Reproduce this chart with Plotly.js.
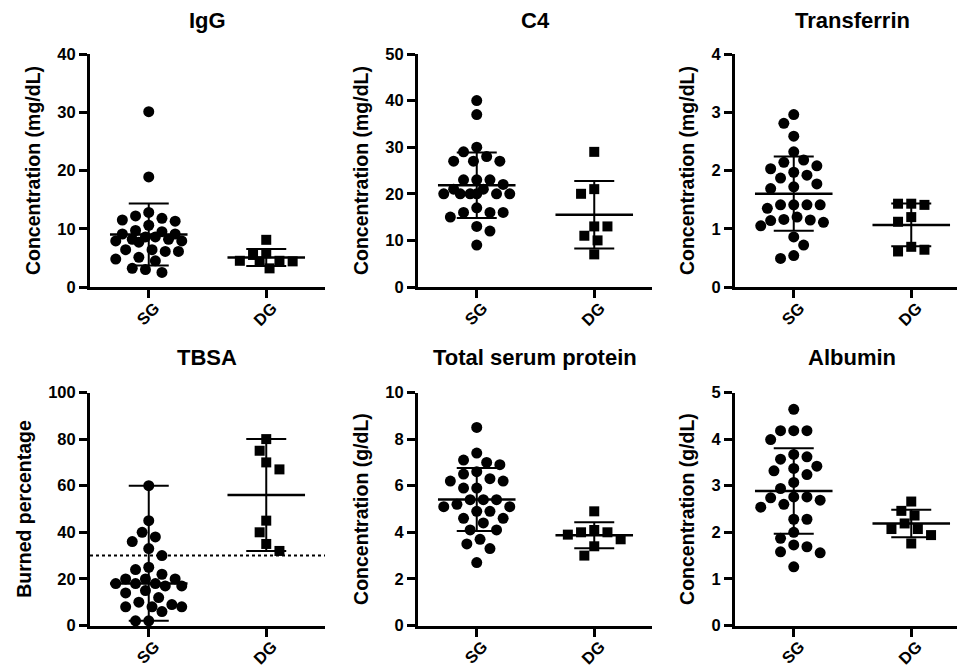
<!DOCTYPE html>
<html>
<head>
<meta charset="utf-8">
<script src="https://cdn.plot.ly/plotly-3.0.1.min.js"></script>
<style>html,body{margin:0;padding:0;background:#fff;}#chart{width:957px;height:668px;}</style>
</head>
<body>
<div id="chart"></div>
<script>
// ---------- data ----------
const groups = ['SG', 'DG'];
const panelTitles = ['IgG', 'C4', 'Transferrin', 'TBSA', 'Total serum protein', 'Albumin'];
const yTitles = ['Concentration (mg/dL)', 'Concentration (mg/dL)', 'Concentration (mg/dL)',
                 'Burned percentage', 'Concentration (g/dL)', 'Concentration (g/dL)'];
const yMax = [40, 50, 4, 100, 10, 5];
const yStep = [10, 10, 1, 20, 2, 1];

const iggSG = [30.1, 18.9, 12.8, 11.8, 11.3, 10.6, 11.5, 12.2, 9.7, 9.1, 8.6, 8.2, 7.9, 7.7, 7.9, 8.2, 8.6, 9.1, 9.5,
               6.4, 6.1, 6.1, 6.4, 4.8, 5.1, 4.5, 3.2, 2.5, 3.0];
const iggDG = [8.1, 5.8, 5.5, 4.5, 4.4, 4.4, 4.5, 3.2];

const c4SG = [40, 37, 29, 30, 28, 27, 27, 27, 23, 23, 23, 22, 21, 21, 20, 20, 20, 20, 20, 20, 17, 16, 16, 15, 16, 13, 12, 9];
const c4DG = [29, 20, 21, 13, 13, 11, 10, 7];

const transferrinSG = [2.96, 2.81, 2.59, 2.32, 2.14, 2.18, 2.03, 2.08, 1.92, 1.97, 1.87, 1.77, 1.69, 1.72, 1.41, 1.41,
                       1.35, 1.41, 1.41, 1.20, 1.15, 1.11, 1.14, 1.16, 1.05, 0.86, 0.72, 0.49, 0.54];
const transferrinDG = [1.43, 1.41, 1.43, 1.20, 1.12, 0.69, 0.61, 0.64];

const tbsaSG = [60, 45, 40, 38, 36, 33, 30, 25, 24, 22, 20, 20, 20, 18, 18, 17, 17, 18, 15, 14, 10, 9, 12, 8, 6, 8, 8, 2, 2];
const tbsaDG = [80, 75, 70, 67, 45, 40, 35, 32];
const tbsaThreshold = 30;

const tspSG = [8.5, 7.4, 7.1, 6.9, 7.0, 6.6, 6.3, 6.2, 6.2, 6.5, 5.9, 5.9, 5.4, 5.4, 5.1, 5.1, 5.2, 5.4, 4.9, 4.9,
               4.6, 4.6, 4.4, 4.1, 4.1, 3.7, 3.5, 3.3, 2.7];
const tspDG = [4.9, 4.0, 3.9, 4.0, 4.1, 3.7, 3.4, 3.0];

const albuminSG = [4.64, 4.18, 4.18, 4.18, 3.99, 3.62, 3.57, 3.67, 3.37, 3.42, 3.24, 3.32, 3.07, 2.94, 2.76, 2.69,
                   2.76, 2.74, 2.54, 2.60, 2.28, 2.28, 2.00, 1.87, 1.69, 1.73, 1.56, 1.58, 1.26];
const albuminDG = [2.66, 2.36, 2.46, 2.19, 2.07, 2.07, 1.94, 1.76];

// summary type per panel: mean ± SD, except TBSA: median with range
const summaryType = ['meanSD', 'meanSD', 'meanSD', 'medianRange', 'meanSD', 'meanSD'];

// ---------- layout geometry ----------
const W = 957, H = 668;
const colPx = [[90, 325], [418, 652], [735, 957]];
const rowPx = [[54, 287], [392.5, 625.5]]; // top px, zero px
const unitPx = 117.5; // px per category unit

const panelData = [[iggSG, iggDG], [c4SG, c4DG], [transferrinSG, transferrinDG],
                   [tbsaSG, tbsaDG], [tspSG, tspDG], [albuminSG, albuminDG]];

function mean(a) { return a.reduce((s, v) => s + v, 0) / a.length; }
function sd(a) { const m = mean(a); return Math.sqrt(a.reduce((s, v) => s + (v - m) * (v - m), 0) / (a.length - 1)); }
function median(a) { const s = a.slice().sort((x, y) => x - y); const n = s.length; return n % 2 ? s[(n - 1) / 2] : (s[n / 2 - 1] + s[n / 2]) / 2; }

// beeswarm placement within a capped column width (pixel space -> category units)
function swarm(vals, center, pxPerY) {
  const D = 12.5, step = 3.3, maxOff = 33;
  const order = vals.map((v, i) => i).sort((a, b) => vals[b] - vals[a]);
  const placed = [];
  const xs = new Array(vals.length);
  let flip = -1;
  const cands = [0];
  for (let k = 1; k * step <= maxOff; k++) cands.push(k * step);
  for (const i of order) {
    const y = vals[i] * pxPerY;
    let best = null, bestD = -1;
    for (const a of cands) {
      const opts = a === 0 ? [0] : [flip * a, -flip * a];
      for (const c of opts) {
        let md = Infinity;
        for (const p of placed) md = Math.min(md, Math.hypot(p[0] - c, p[1] - y));
        if (md >= D) { best = c; bestD = Infinity; break; }
        if (md > bestD + 0.01) { bestD = md; best = c; }
      }
      if (bestD === Infinity) break;
    }
    placed.push([best, y]);
    xs[i] = center + best / unitPx;
    if (best !== 0) flip = -Math.sign(best);
  }
  return xs;
}

const FONT = 'Liberation Sans, Arial, sans-serif';
const traces = [];
const layout = {
  width: W, height: H,
  margin: {l: 0, r: 0, t: 0, b: 0},
  paper_bgcolor: '#fff', plot_bgcolor: '#fff',
  showlegend: false,
  font: {family: FONT, color: '#000', size: 16},
  annotations: [], shapes: []
};

for (let p = 0; p < 6; p++) {
  const col = p % 3, row = Math.floor(p / 3);
  const ax = p + 1;
  const xa = 'x' + (ax === 1 ? '' : ax), ya = 'y' + (ax === 1 ? '' : ax);
  const [x0, x1] = colPx[col];
  const [yt, yz] = rowPx[row];
  const pxPerY = (yz - yt) / yMax[p];
  const xRangeEnd = -0.5 + (x1 - x0) / unitPx;

  layout['xaxis' + (ax === 1 ? '' : ax)] = {
    domain: [x0 / W, x1 / W], range: [-0.5, xRangeEnd], anchor: ya,
    tickvals: [0, 1], ticktext: groups, tickangle: -45,
    ticks: 'outside', ticklen: 8, tickwidth: 3, tickcolor: '#000',
    ticklabelstandoff: -6, ticklabelshift: 6,
    showline: true, linewidth: 3, linecolor: '#000',
    showgrid: false, zeroline: false, fixedrange: true,
    tickfont: {family: FONT, size: 16.5, color: '#000', weight: 'bold'}
  };
  layout['yaxis' + (ax === 1 ? '' : ax)] = {
    domain: [(H - yz) / H, (H - yt) / H], range: [0, yMax[p]], anchor: xa,
    dtick: yStep[p], tick0: 0,
    ticks: 'outside', ticklen: 8, tickwidth: 3, tickcolor: '#000',
    showline: true, linewidth: 3, linecolor: '#000',
    showgrid: false, zeroline: false, fixedrange: true,
    tickfont: {family: FONT, size: 16.5, color: '#000', weight: 'bold'},
    title: {text: yTitles[p], standoff: 12, font: {family: FONT, size: 19.5, color: '#000', weight: 'bold'}}
  };
  layout.annotations.push({
    text: panelTitles[p], xref: 'paper', yref: 'paper',
    x: (x0 + 117) / W, y: 1 - (row === 0 ? 20 : 358) / H,
    xanchor: 'center', yanchor: 'middle', showarrow: false,
    font: {family: FONT, size: 22, color: '#000', weight: 'bold'}
  });

  panelData[p].forEach((vals, g) => {
    traces.push({
      type: 'scatter', mode: 'markers', xaxis: xa, yaxis: ya,
      x: swarm(vals, g, pxPerY), y: vals, cliponaxis: false, hoverinfo: 'y',
      marker: {symbol: g === 0 ? 'circle' : 'square', size: g === 0 ? 11 : 10, color: '#000', line: {width: 0}}
    });
  });
  panelData[p].forEach((vals, g) => {
    let c, lo, hi;
    if (summaryType[p] === 'meanSD') { c = mean(vals); lo = sd(vals); hi = lo; }
    else { c = median(vals); lo = c - Math.min(...vals); hi = Math.max(...vals) - c; }
    traces.push({
      type: 'scatter', mode: 'markers', xaxis: xa, yaxis: ya,
      x: [g], y: [c], cliponaxis: false, hoverinfo: 'skip',
      marker: {size: 1, color: 'rgba(0,0,0,0)'},
      error_x: {type: 'constant', value: 0.33, width: 0, thickness: 2.5, color: '#000'},
      error_y: {type: 'data', symmetric: false, array: [hi], arrayminus: [lo], width: 20, thickness: 2, color: '#000'}
    });
  });
}

layout.shapes.push({
  type: 'line', xref: 'x4 domain', yref: 'y4', x0: 0, x1: 1, y0: tbsaThreshold, y1: tbsaThreshold,
  line: {color: '#000', width: 2, dash: 'dot'}
});

Plotly.newPlot('chart', traces, layout, {staticPlot: true, displayModeBar: false});
</script>
</body>
</html>
